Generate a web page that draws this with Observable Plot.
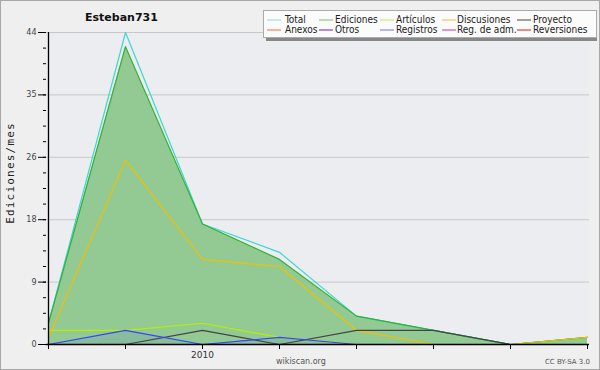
<!DOCTYPE html>
<html>
<head>
<meta charset="utf-8">
<script src="https://cdn.jsdelivr.net/npm/d3@7"></script>
<script src="https://cdn.jsdelivr.net/npm/@observablehq/plot@0.6"></script>
<style>
  html, body { margin: 0; padding: 0; background: #efefef; }
  #chart svg { display: block; }
</style>
</head>
<body>
<div id="chart"></div>
<script>
// ---- data ----
const periods = ["2009-07", "2009-10", "2010-01", "2010-04", "2010-07", "2010-10", "2011-01", "2011-04"];
const total       = [3, 44, 17, 13, 4, 2, 0, 1];
const ediciones   = [3, 42, 17, 12, 4, 2, 0, 1];
const articulos   = [2, 2, 3, 1, 0, 0, 0, 0];
const discusiones = [1, 26, 12, 11, 2, 0, 0, 1];
const proyecto    = [0, 0, 2, 0, 2, 2, 0, 0];
const anexos      = [0, 0, 0, 0, 0, 0, 0, 0];
const otros       = [0, 0, 0, 0, 0, 0, 0, 0];
const registros   = [0, 2, 0, 1, 0, 0, 0, 0];
const regAdm      = [0, 0, 0, 0, 0, 0, 0, 0];
const reversiones = [0, 0, 0, 0, 0, 0, 0, 0];
const seriesNames = ["Total", "Ediciones", "Artículos", "Discusiones", "Proyecto", "Anexos", "Otros", "Registros", "Reg. de adm.", "Reversiones"];
const yTicks = [0, 8.8, 17.6, 26.4, 35.2, 44];
const yTickLabels = ["0", "9", "18", "26", "35", "44"];
const xTickLabels = {"2010-01": "2010"};
const titleText = "Esteban731";
const yLabel = "Ediciones/mes";
const footerLeft = "wikiscan.org";
const footerRight = "CC BY-SA 3.0";

// ---- styles ----
const lineColors   = ["#3ed6d0", "#33b233", "#b4f000", "#f0c000", "#444444", "#ff7f40", "#7f3fcf", "#3344ff", "#c040e0", "#e03030"];
const legendColors = ["#a8dede", "#88cc88", "#c8ee70", "#eecc66", "#666666", "#ee8855", "#8844cc", "#8888ee", "#cc55cc", "#dd4444"];

const values = [total, ediciones, articulos, discusiones, proyecto, anexos, otros, registros, regAdm, reversiones];
const rows = [];
seriesNames.forEach((name, s) => {
  periods.forEach((p, i) => rows.push({serie: name, period: p, value: values[s][i]}));
});
const visibleRows = rows.filter(r => values[seriesNames.indexOf(r.serie)].some(v => v > 0));
const edRows = rows.filter(r => r.serie === "Ediciones");
const regRows = rows.filter(r => r.serie === "Registros");
const yMinor = d3.range(0, 44.01, 2.2);

const svg = Plot.plot({
  width: 600,
  height: 370,
  marginLeft: 46,
  marginRight: 11,
  marginTop: 32,
  marginBottom: 26,
  style: {background: "#efefef", fontFamily: "DejaVu Sans", color: "#333"},
  x: {type: "point", domain: periods, padding: 0},
  y: {domain: [0, 44]},
  color: {domain: seriesNames, range: lineColors},
  marks: [
    Plot.frame({fill: "#ecedf0", stroke: "none"}),
    Plot.gridY(yTicks, {stroke: "#c8c8c8", strokeOpacity: 1}),
    Plot.areaY(edRows, {x: "period", y: "value", fill: "#93c993"}),
    Plot.areaY(regRows, {x: "period", y: "value", fill: "#3344ff", fillOpacity: 0.1}),
    Plot.line(visibleRows, {x: "period", y: "value", z: "serie", stroke: "serie", strokeWidth: 1.2}),
    Plot.axisY(yMinor, {tickSize: 3, tickFormat: () => "", label: null, stroke: "#000"}),
    Plot.axisY(yTicks, {tickSize: 8, tickPadding: 2, tickFormat: (d, i) => yTickLabels[i], label: null, fontSize: 8, fill: "#444", stroke: "#000"}),
    Plot.axisX(periods, {tickSize: 5, tickPadding: 2, tickFormat: d => xTickLabels[d] || "", label: null, fontSize: 9, fill: "#333", stroke: "#000"}),
    Plot.ruleX([periods[0]], {stroke: "#000", strokeWidth: 1.3}),
    Plot.ruleY([0], {stroke: "#000", strokeWidth: 1.3})
  ]
});

const root = d3.select(svg);
// outer border
root.append("rect").attr("x", 0.5).attr("y", 0.5).attr("width", 599).attr("height", 369)
  .attr("fill", "none").attr("stroke", "#a8a8a8");
// title
root.append("text").attr("x", 85).attr("y", 21).attr("text-anchor", "start").attr("font-family", "DejaVu Sans").attr("font-weight", "bold")
  .attr("font-size", 11).attr("fill", "#111").text(titleText);
// y label
root.append("text").attr("transform", "translate(14,173) rotate(-90)").attr("text-anchor", "middle")
  .attr("font-family", "DejaVu Sans Mono").attr("font-size", 11).attr("letter-spacing", 1.2).attr("fill", "#222").text(yLabel);
// footer
root.append("text").attr("x", 276).attr("y", 364).attr("text-anchor", "start").attr("font-family", "DejaVu Sans").attr("font-size", 8)
  .attr("fill", "#555").text(footerLeft);
root.append("text").attr("x", 590).attr("y", 364).attr("text-anchor", "end").attr("font-family", "DejaVu Sans")
  .attr("font-size", 7).attr("fill", "#555").text(footerRight);
// legend
const lg = root.append("g");
lg.append("rect").attr("x", 266).attr("y", 13).attr("width", 331).attr("height", 28).attr("fill", "#888");
lg.append("rect").attr("x", 263.5).attr("y", 10.5).attr("width", 333).attr("height", 27).attr("fill", "#fbfbfb").attr("stroke", "#aaa");
const swX = [267, 319, 380, 442, 517];
const txX = [285, 335, 396, 457, 533];
seriesNames.forEach((name, i) => {
  const col = i % 5, row = Math.floor(i / 5);
  const yb = 23 + row * 10;
  lg.append("line").attr("x1", swX[col]).attr("x2", swX[col] + 14).attr("y1", yb - 3).attr("y2", yb - 3)
    .attr("stroke", legendColors[i]).attr("stroke-width", 1.2);
  lg.append("text").attr("x", txX[col]).attr("y", yb).attr("text-anchor", "start").attr("font-family", "DejaVu Sans Condensed, DejaVu Sans")
    .attr("font-size", 10).attr("fill", "#222").text(name);
});
document.getElementById("chart").appendChild(svg);
</script>
</body>
</html>
